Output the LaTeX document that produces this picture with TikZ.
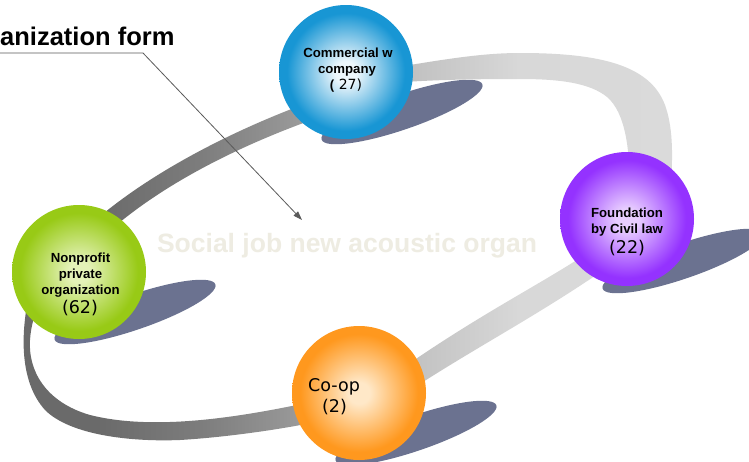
\documentclass[tikz,border=0pt]{standalone}
\usepackage{fontspec}
\setmainfont{Liberation Sans}
\newfontfamily\numfont{DejaVu Sans}
\usetikzlibrary{arrows.meta}
% ball colours
\definecolor{bIn}{RGB}{238,247,252}
\definecolor{bOut}{RGB}{24,150,212}
\definecolor{pIn}{RGB}{232,206,255}
\definecolor{pOut}{RGB}{148,50,255}
\definecolor{gIn}{RGB}{228,242,184}
\definecolor{gOut}{RGB}{152,202,22}
\definecolor{oIn}{RGB}{255,232,200}
\definecolor{oOut}{RGB}{255,152,30}
\definecolor{shadowc}{RGB}{107,114,144}
\definecolor{midc}{RGB}{238,236,226}
\definecolor{leadc}{RGB}{90,90,90}
% ring colours
\definecolor{r0}{RGB}{106,106,106}
\definecolor{r1}{RGB}{124,124,124}
\definecolor{r2}{RGB}{150,150,150}
\definecolor{r3}{RGB}{195,195,195}
\definecolor{r4}{RGB}{216,216,216}
\definecolor{r5}{RGB}{222,222,222}
\pgfdeclareradialshading{ballB}{\pgfpoint{0bp}{0bp}}{color(0bp)=(bIn); color(4bp)=(bIn); color(22bp)=(bOut); color(25bp)=(bOut); color(50bp)=(bOut)}
\pgfdeclareradialshading{ballP}{\pgfpoint{0bp}{0bp}}{color(0bp)=(pIn); color(4bp)=(pIn); color(22bp)=(pOut); color(25bp)=(pOut); color(50bp)=(pOut)}
\pgfdeclareradialshading{ballG}{\pgfpoint{0bp}{0bp}}{color(0bp)=(gIn); color(4bp)=(gIn); color(22bp)=(gOut); color(25bp)=(gOut); color(50bp)=(gOut)}
\pgfdeclareradialshading{ballO}{\pgfpoint{0bp}{0bp}}{color(0bp)=(oIn); color(4bp)=(oIn); color(22bp)=(oOut); color(25bp)=(oOut); color(50bp)=(oOut)}
\pgfdeclarehorizontalshading{ringsh}{100bp}{color(0bp)=(r0); color(31bp)=(r0); color(38.7bp)=(r1); color(45.6bp)=(r2); color(55.6bp)=(r3); color(63.2bp)=(r4); color(100bp)=(r5)}
\tikzset{
  ball/.style={circle, shade, inner sep=0pt, minimum size=134pt},
  shadowblob/.style={fill=shadowc},
  lbl/.style={font=\bfseries\fontsize{13.2}{15}\selectfont, inner sep=0pt, anchor=base},
  num/.style={font=\numfont\fontsize{17.5}{20}\selectfont, inner sep=0pt, anchor=base},
  leader/.style={draw=leadc, line width=0.8pt},
}
\begin{document}
\begin{tikzpicture}[x=1pt,y=-1pt]
\useasboundingbox (0,0) rectangle (749,461);
\fill[white] (0,0) rectangle (749,461);
% shadows
\fill[shadowblob, rotate around={19:(402,112)}] (402,112) ellipse [x radius=85, y radius=17.5];
\fill[shadowblob, rotate around={19:(683,261)}] (683,261) ellipse [x radius=85, y radius=17.5];
\fill[shadowblob, rotate around={19:(135,312)}] (135,312) ellipse [x radius=85, y radius=17.5];
\fill[shadowblob, rotate around={19:(416,433)}] (416,433) ellipse [x radius=85, y radius=17.5];
% ring (four visible arcs, ends hidden under the balls)
\shade[shading=ringsh]
 (380,70) .. controls (440,60) and (480,53) .. (520,53)
   .. controls (600,53) and (650,65) .. (665,105)
   .. controls (672,125) and (674,150) .. (670,195)
 -- (629,195) .. controls (631,150) and (625,112) .. (607,97)
   .. controls (590,83) and (560,79) .. (520,79)
   .. controls (470,79) and (420,80) .. (380,84) -- cycle
 (580,258) .. controls (530,290) and (470,320) .. (390,377)
 -- (400,397) .. controls (470,350) and (540,315) .. (615,262) -- cycle
 (320,400) .. controls (230,420) and (150,430) .. (90,415)
   .. controls (45,402) and (28,370) .. (30,340)
   .. controls (31,325) and (35,312) .. (40,305)
 -- (28,300) .. controls (22,330) and (18,380) .. (45,410)
   .. controls (70,435) and (130,442) .. (180,440)
   .. controls (230,437) and (290,428) .. (325,420) -- cycle
 (90,225) .. controls (140,180) and (220,135) .. (310,102)
 -- (320,117) .. controls (240,145) and (160,185) .. (105,235) -- cycle;
% middle text
\node[font=\bfseries\fontsize{26.5}{30}\selectfont, text=midc, anchor=base, inner sep=0pt] (mid) at (347,252) {Social job new acoustic organ};
% balls
\node[ball, shading=ballB] (com) at (346,72) {};
\node[ball, shading=ballP] (fou) at (627,219) {};
\node[ball, shading=ballG] (non) at (79,272) {};
\node[ball, shading=ballO] (coop) at (359,393) {};
% labels
\node[lbl] (com1) at (348,57) {Commercial w};
\node[lbl] (com2) at (347,73) {company};
\node[lbl] (com3) at (346,89) {(\mdseries\numfont\fontsize{14}{16}\selectfont\ 27)};
\node[lbl] (fou1) at (627,217) {Foundation};
\node[lbl] (fou2) at (627,233) {by Civil law};
\node[num] (fou3) at (627,253) {(22)};
\node[lbl] (non1) at (80.5,262) {Nonprofit};
\node[lbl] (non2) at (80.5,278) {private};
\node[lbl] (non3) at (80.5,294) {organization};
\node[num] (non4) at (80,313) {(62)};
\node[num] (coop1) at (334,391) {Co-op};
\node[num] (coop2) at (334.5,412) {(2)};
% title and leader
\node[font=\bfseries\fontsize{25.5}{30}\selectfont, anchor=base west, inner sep=0pt] (title) at (0,45) {anization form};
\coordinate (l0) at (0,53);
\coordinate (l1) at (143,53);
\coordinate (l2) at (302,220);
\draw[leader, -{Triangle[length=9pt,width=6pt]}] (l0) -- (l1) -- (l2);
\end{tikzpicture}
\end{document}
